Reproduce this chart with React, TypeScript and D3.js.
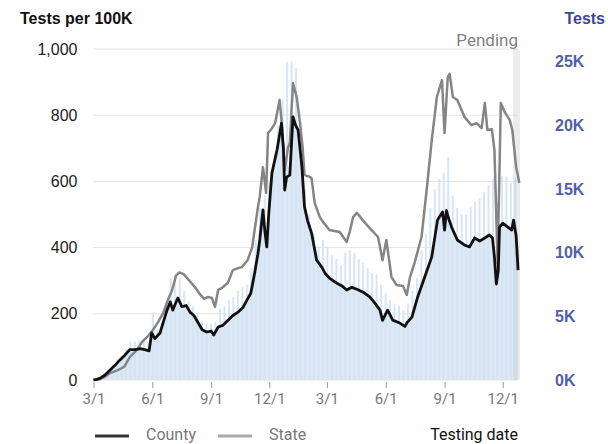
import React, { useRef, useEffect } from 'react';
import * as d3 from 'd3';

// County tests per 100K (7-day avg)
const countyData: [string, number][] = [
  ['2020-03-01', 0], ['2020-03-06', 2], ['2020-03-11', 5], ['2020-03-19', 15], ['2020-03-27', 30],
  ['2020-04-04', 45], ['2020-04-11', 60], ['2020-04-19', 75], ['2020-04-27', 92], ['2020-05-05', 92],
  ['2020-05-13', 95], ['2020-05-20', 92], ['2020-05-27', 88], ['2020-05-31', 142], ['2020-06-05', 125],
  ['2020-06-13', 142], ['2020-06-19', 180], ['2020-06-24', 211], ['2020-06-29', 236], ['2020-07-03', 211],
  ['2020-07-08', 235], ['2020-07-11', 248], ['2020-07-17', 222], ['2020-07-24', 225], ['2020-07-30', 205],
  ['2020-08-05', 195], ['2020-08-11', 175], ['2020-08-18', 152], ['2020-08-25', 145], ['2020-09-01', 148],
  ['2020-09-05', 136], ['2020-09-12', 160], ['2020-09-19', 165], ['2020-09-27', 180], ['2020-10-05', 195],
  ['2020-10-13', 205], ['2020-10-21', 220], ['2020-10-28', 245], ['2020-11-02', 262], ['2020-11-08', 323],
  ['2020-11-13', 380], ['2020-11-16', 423], ['2020-11-21', 514], ['2020-11-24', 450], ['2020-11-27', 402],
  ['2020-11-30', 500], ['2020-12-05', 625], ['2020-12-13', 695], ['2020-12-20', 776], ['2020-12-23', 700],
  ['2020-12-25', 574], ['2020-12-28', 613], ['2021-01-02', 619], ['2021-01-07', 795], ['2021-01-11', 770],
  ['2021-01-15', 755], ['2021-01-21', 643], ['2021-01-25', 523], ['2021-01-30', 480], ['2021-02-05', 444],
  ['2021-02-13', 362], ['2021-02-21', 341], ['2021-02-27', 320], ['2021-03-05', 308], ['2021-03-16', 293],
  ['2021-03-24', 285], ['2021-04-01', 272], ['2021-04-09', 280], ['2021-04-17', 274], ['2021-04-26', 266],
  ['2021-05-07', 251], ['2021-05-16', 230], ['2021-05-23', 211], ['2021-05-27', 180], ['2021-06-01', 200],
  ['2021-06-04', 211], ['2021-06-12', 181], ['2021-06-23', 172], ['2021-07-01', 162], ['2021-07-05', 175],
  ['2021-07-12', 190], ['2021-07-21', 251], ['2021-08-01', 311], ['2021-08-12', 372], ['2021-08-21', 483],
  ['2021-08-29', 508], ['2021-09-01', 453], ['2021-09-04', 512], ['2021-09-07', 490], ['2021-09-12', 462],
  ['2021-09-21', 423], ['2021-10-02', 408], ['2021-10-10', 402], ['2021-10-18', 429], ['2021-10-26', 420],
  ['2021-11-03', 429], ['2021-11-10', 438], ['2021-11-15', 429], ['2021-11-18', 372], ['2021-11-21', 290],
  ['2021-11-24', 330], ['2021-11-26', 462], ['2021-12-01', 474], ['2021-12-09', 462], ['2021-12-15', 453],
  ['2021-12-18', 483], ['2021-12-22', 435], ['2021-12-25', 332],
];

// State tests per 100K (7-day avg)
const stateData: [string, number][] = [
  ['2020-03-01', 0], ['2020-03-11', 3], ['2020-03-19', 10], ['2020-03-27', 21], ['2020-04-08', 30],
  ['2020-04-18', 40], ['2020-04-27', 70], ['2020-05-08', 91], ['2020-05-16', 115], ['2020-05-24', 130],
  ['2020-06-02', 151], ['2020-06-10', 175], ['2020-06-18', 202], ['2020-06-25', 240], ['2020-07-02', 272],
  ['2020-07-08', 315], ['2020-07-13', 325], ['2020-07-20', 320], ['2020-07-28', 302], ['2020-08-07', 280],
  ['2020-08-14', 260], ['2020-08-21', 245], ['2020-08-27', 251], ['2020-09-02', 248], ['2020-09-07', 221],
  ['2020-09-12', 272], ['2020-09-19', 280], ['2020-09-27', 293], ['2020-10-05', 332], ['2020-10-13', 338],
  ['2020-10-19', 341], ['2020-10-28', 362], ['2020-11-04', 400], ['2020-11-08', 453], ['2020-11-13', 520],
  ['2020-11-16', 553], ['2020-11-21', 643], ['2020-11-26', 565], ['2020-11-29', 746], ['2020-12-05', 760],
  ['2020-12-10', 776], ['2020-12-17', 846], ['2020-12-20', 785], ['2020-12-25', 634], ['2020-12-30', 700],
  ['2021-01-02', 716], ['2021-01-07', 897], ['2021-01-13', 852], ['2021-01-18', 776], ['2021-01-22', 704],
  ['2021-01-25', 619], ['2021-02-01', 615], ['2021-02-05', 610], ['2021-02-10', 534], ['2021-02-18', 492],
  ['2021-02-22', 480], ['2021-03-05', 453], ['2021-03-13', 450], ['2021-03-21', 447], ['2021-04-01', 417],
  ['2021-04-06', 450], ['2021-04-11', 492], ['2021-04-17', 505], ['2021-04-26', 483], ['2021-05-07', 459],
  ['2021-05-20', 432], ['2021-05-27', 362], ['2021-06-02', 423], ['2021-06-10', 311], ['2021-06-18', 287],
  ['2021-06-28', 284], ['2021-07-04', 257], ['2021-07-09', 311], ['2021-07-16', 353], ['2021-07-27', 432],
  ['2021-08-04', 574], ['2021-08-12', 725], ['2021-08-20', 855], ['2021-08-28', 906], ['2021-09-01', 746],
  ['2021-09-06', 915], ['2021-09-09', 925], ['2021-09-14', 855], ['2021-09-21', 846], ['2021-10-02', 795],
  ['2021-10-13', 770], ['2021-10-21', 776], ['2021-10-29', 761], ['2021-11-03', 837], ['2021-11-07', 755],
  ['2021-11-14', 758], ['2021-11-18', 695], ['2021-11-23', 353], ['2021-11-28', 837], ['2021-12-04', 810],
  ['2021-12-12', 785], ['2021-12-16', 755], ['2021-12-22', 643], ['2021-12-27', 595],
];

// Daily tests, weekly peaks (thousands), one per week from testsStart
const testsStart = '2020-03-02';
const weeklyTestsK = [
  0.1, 0.2, 0.4, 0.8, 1.2, 1.6, 1.9, 2.4, 3.0, 3.0, 3.1, 3.3, 3.0, 5.3, 4.0, 4.6, 5.8, 8.0, 8.2, 8.0,
  7.0, 6.2, 5.8, 5.2, 4.6, 4.4, 4.4, 4.6, 5.6, 5.8, 6.3, 6.5, 7.0, 7.3, 7.5, 8.8, 11.0, 13.5, 14.5, 15.5,
  17.0, 20.0, 22.0, 25.0, 25.0, 24.5, 18.0, 15.0, 13.0, 11.5, 10.5, 11.0, 10.5, 9.8, 9.5, 9.0, 10.0, 10.2, 10.0, 9.5,
  9.2, 8.8, 8.4, 8.3, 7.5, 6.8, 6.3, 6.0, 5.8, 5.5, 6.0, 7.0, 8.0, 10.2, 11.5, 13.5, 15.0, 15.8, 16.3, 17.5,
  14.5, 13.5, 13.0, 13.0, 13.6, 14.0, 14.3, 14.8, 15.3, 15.8, 14.0, 16.0, 16.0, 15.5, 15.9,
];

const leftTicks = [0, 200, 400, 600, 800, 1000];
const rightTicksK = [0, 5, 10, 15, 20, 25];
const xTickDates = ['2020-03-01', '2020-06-01', '2020-09-01', '2020-12-01', '2021-03-01', '2021-06-01', '2021-09-01', '2021-12-01'];
const dateStart = '2020-03-01';
const dateEnd = '2021-12-28';
const pendingStart = '2021-12-17';

const parse = d3.timeParse('%Y-%m-%d');

const TestsChart = () => {
  const svgRef = useRef<SVGSVGElement>(null);
  const W = 608, H = 444;
  const margin = { top: 49, right: 88, bottom: 64, left: 93.5 };

  useEffect(() => {
    const svg = d3.select(svgRef.current);
    svg.selectAll('*').remove();

    const x = d3.scaleTime()
      .domain([parse(dateStart)!, parse(dateEnd)!])
      .range([margin.left, W - margin.right]);
    const yL = d3.scaleLinear().domain([0, 1000]).range([H - margin.bottom, margin.top]);
    const yR = d3.scaleLinear().domain([0, 26]).range([H - margin.bottom, margin.top]);

    const county = countyData.map(d => ({ date: parse(d[0])!, v: d[1] }));
    const state = stateData.map(d => ({ date: parse(d[0])!, v: d[1] }));
    const bars = weeklyTestsK.map((v, i) => ({ date: d3.timeDay.offset(parse(testsStart)!, i * 7), v }));

    // gridlines
    svg.append('g')
      .selectAll('line')
      .data(leftTicks)
      .enter()
      .append('line')
        .attr('x1', margin.left)
        .attr('x2', W - margin.right - 2)
        .attr('y1', d => yL(d))
        .attr('y2', d => yL(d))
        .attr('stroke', '#e4e4e4')
        .attr('stroke-width', 1);

    // tests area (7-day avg) and daily bars
    const area = d3.area<{ date: Date; v: number }>()
      .x(d => x(d.date))
      .y0(yL(0))
      .y1(d => yL(d.v));
    svg.append('path')
      .datum(county)
      .attr('d', area)
      .attr('fill', '#dde8f5');

    svg.append('g')
      .selectAll('rect')
      .data(bars)
      .enter()
      .append('rect')
        .attr('x', d => x(d.date) - 0.5)
        .attr('y', d => yR(d.v))
        .attr('width', 2)
        .attr('height', d => yR(0) - yR(d.v))
        .attr('fill', '#d4e2f3')
        .attr('opacity', 0.9);

    // pending band
    svg.append('rect')
      .attr('x', x(parse(pendingStart)!))
      .attr('y', margin.top)
      .attr('width', x(parse(dateEnd)!) - x(parse(pendingStart)!))
      .attr('height', yL(0) - margin.top)
      .attr('fill', '#c8c8c8')
      .attr('opacity', 0.35);
    svg.append('text')
      .attr('x', W - margin.right - 2)
      .attr('y', 46)
      .attr('text-anchor', 'end')
      .attr('font-family', 'Roboto, sans-serif')
      .attr('font-size', 17)
      .attr('fill', '#808080')
      .text('Pending');

    // lines
    const line = d3.line<{ date: Date; v: number }>()
      .x(d => x(d.date))
      .y(d => yL(d.v));
    svg.append('path')
      .datum(state)
      .attr('d', line)
      .attr('fill', 'none')
      .attr('stroke', '#858585')
      .attr('stroke-width', 2.5)
      .attr('stroke-linejoin', 'round');
    svg.append('path')
      .datum(county)
      .attr('d', line)
      .attr('fill', 'none')
      .attr('stroke', '#111')
      .attr('stroke-width', 2.8)
      .attr('stroke-linejoin', 'round');

    // x axis
    const xAxis = d3.axisBottom(x)
      .tickValues(xTickDates.map(d => parse(d)!))
      .tickFormat(d => d3.timeFormat('%-m/%-d')(d as Date))
      .tickSize(6)
      .tickPadding(5);
    const gx = svg.append('g')
      .attr('transform', 'translate(0,' + (yL(0) + 2) + ')')
      .call(xAxis);
    gx.select('.domain').remove();
    gx.selectAll('line').attr('stroke', '#999');
    gx.selectAll('text')
      .attr('font-family', 'Roboto, sans-serif')
      .attr('font-size', 15)
      .attr('fill', '#777');

    // left axis
    const yAxisL = d3.axisLeft(yL)
      .tickValues(leftTicks)
      .tickFormat(d3.format(','))
      .tickSize(0)
      .tickPadding(16);
    const gl = svg.append('g')
      .attr('transform', 'translate(' + margin.left + ',0)')
      .call(yAxisL);
    gl.select('.domain').remove();
    gl.selectAll('text')
      .attr('font-family', 'Arial, "Liberation Sans", sans-serif')
      .attr('font-size', 16)
      .attr('fill', '#222');

    // right axis
    const yAxisR = d3.axisRight(yR)
      .tickValues(rightTicksK)
      .tickFormat(d => d + 'K')
      .tickSize(0)
      .tickPadding(0);
    const gr = svg.append('g')
      .attr('transform', 'translate(555,0)')
      .call(yAxisR);
    gr.select('.domain').remove();
    gr.selectAll('text')
      .attr('font-family', 'Arial, "Liberation Sans", sans-serif')
      .attr('font-size', 16)
      .attr('font-weight', 'bold')
      .attr('fill', '#5161a9');

    // titles
    svg.append('text')
      .attr('x', 20).attr('y', 24)
      .attr('font-family', 'Arial, "Liberation Sans", sans-serif')
      .attr('font-size', 16).attr('font-weight', 'bold')
      .attr('fill', '#111')
      .text('Tests per 100K');
    svg.append('text')
      .attr('x', 605).attr('y', 24)
      .attr('text-anchor', 'end')
      .attr('font-family', 'Arial, "Liberation Sans", sans-serif')
      .attr('font-size', 16).attr('font-weight', 'bold')
      .attr('fill', '#3b4a93')
      .text('Tests');

    // legend
    const legend = svg.append('g').attr('font-family', 'Roboto, sans-serif').attr('font-size', 16);
    legend.append('line').attr('x1', 95).attr('x2', 129).attr('y1', 436).attr('y2', 436)
      .attr('stroke', '#333').attr('stroke-width', 3);
    legend.append('text').attr('x', 146).attr('y', 440).attr('fill', '#777').text('County');
    legend.append('line').attr('x1', 218).attr('x2', 252).attr('y1', 436).attr('y2', 436)
      .attr('stroke', '#aaa').attr('stroke-width', 3);
    legend.append('text').attr('x', 269).attr('y', 440).attr('fill', '#777').text('State');
    legend.append('text').attr('x', 518).attr('y', 440).attr('text-anchor', 'end')
      .attr('fill', '#111').text('Testing date');
    // eslint-disable-next-line
  }, []);

  return (
    <svg ref={svgRef} width={W} height={H}
      style={{ position: 'absolute', left: 0, top: 0, background: '#fff' }} />
  );
};

export default function App() {
  return <TestsChart />;
}
